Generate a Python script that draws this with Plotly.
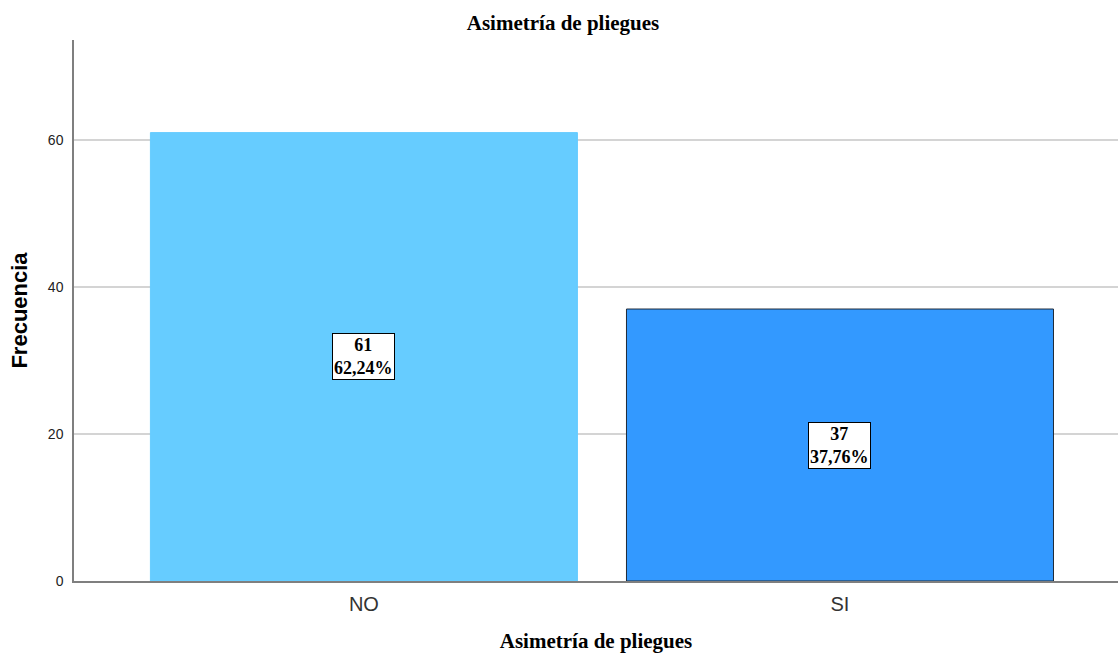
import plotly.graph_objects as go

# Frequency table for "Asimetría de pliegues"
categories = ["NO", "SI"]
counts = [61, 37]
percent_labels = ["62,24%", "37,76%"]
bar_colors = ["#66CCFF", "#3399FF"]
bar_outlines = ["#66CCFF", "#1f2a38"]

fig = go.Figure()
fig.add_trace(go.Bar(
    x=categories,
    y=counts,
    width=0.897,
    marker=dict(color=bar_colors, line=dict(color=bar_outlines, width=1)),
    hoverinfo="skip",
))

# Count + percentage boxes in the middle of each bar
for cat, n, pct in zip(categories, counts, percent_labels):
    fig.add_annotation(
        x=cat, y=n / 2, xref="x", yref="y",
        text=f"<b>{n}<br>{pct}</b>",
        showarrow=False,
        font=dict(family="Liberation Serif", size=18, color="#000000"),
        bgcolor="#ffffff",
        bordercolor="#000000",
        borderwidth=1,
        borderpad=1,
    )

fig.update_layout(
    width=1118, height=653,
    margin=dict(l=74, r=0, t=40, b=72),
    paper_bgcolor="#ffffff",
    plot_bgcolor="#ffffff",
    showlegend=False,
    title=dict(
        text="<b>Asimetría de pliegues</b>",
        x=563 / 1118, xanchor="center", y=1 - 23 / 653, yanchor="middle",
        font=dict(family="Liberation Serif", size=21, color="#000000"),
    ),
    xaxis=dict(
        type="category",
        range=[-0.609, 1.584],
        showgrid=False,
        showline=True, linecolor="#7f7f7f", linewidth=1.5,
        ticks="",
        ticklabelstandoff=4,
        tickfont=dict(family="Liberation Sans", size=20, color="#333333"),
        title=dict(
            text="<b>Asimetría de pliegues</b>",
            font=dict(family="Liberation Serif", size=21, color="#000000"),
            standoff=22,
        ),
    ),
    yaxis=dict(
        range=[0, 73.6],
        tickvals=[0, 20, 40, 60],
        showgrid=True, gridcolor="#d4d4d4", gridwidth=1.5,
        zeroline=False,
        showline=True, linecolor="#7f7f7f", linewidth=1.5,
        ticks="",
        ticklabelstandoff=6,
        tickfont=dict(family="Liberation Sans", size=14, color="#222222"),
        title=dict(
            text="<b>Frecuencia</b>",
            font=dict(family="Liberation Sans", size=22, color="#000000"),
            standoff=14,
        ),
    ),
)

fig.write_html("out.html")
